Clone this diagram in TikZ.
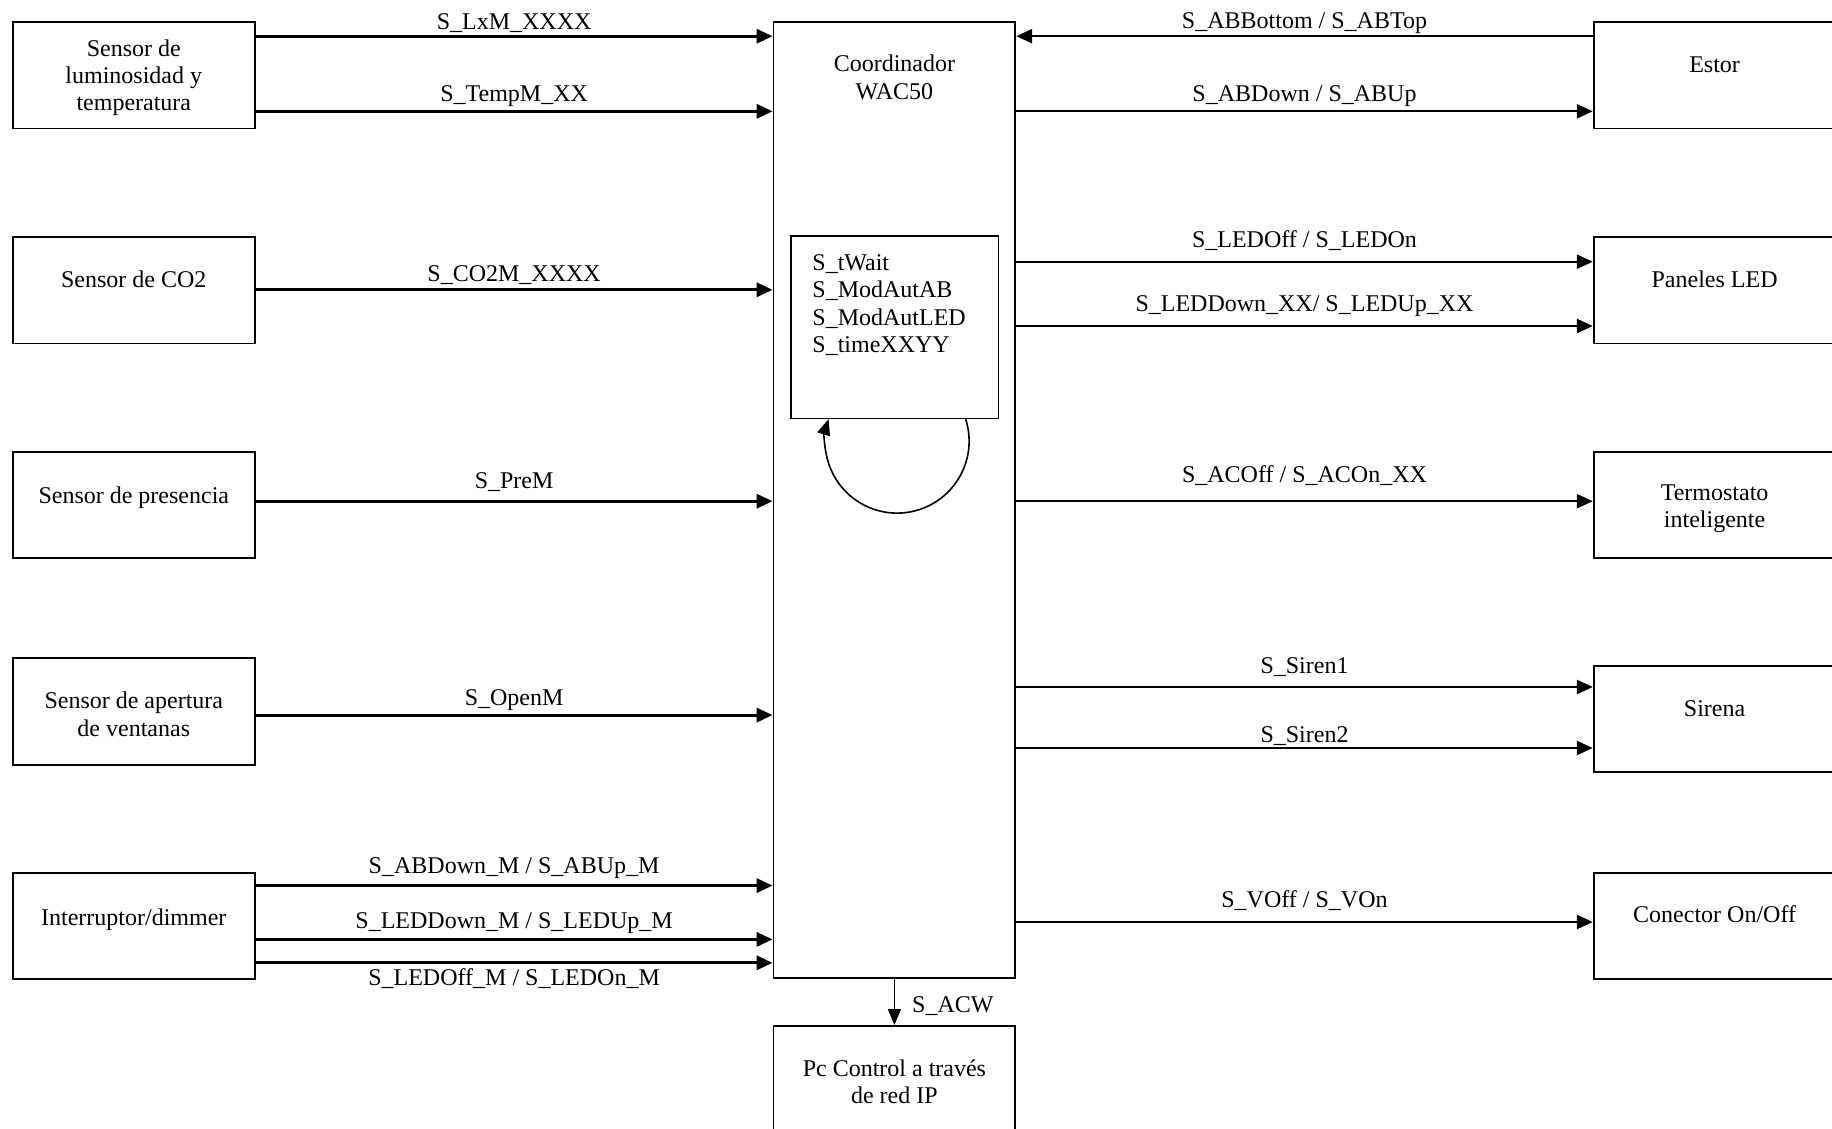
\documentclass[tikz,border=0pt]{standalone}
\usepackage{fontspec}
\setmainfont{Liberation Serif}
\usetikzlibrary{arrows.meta,calc}
\begin{document}
\begin{tikzpicture}[x=0.5pt,y=-0.5pt,
  font=\fontsize{12}{13.7}\selectfont,
  box/.style={draw, line width=0.9pt, minimum width=120.9pt, minimum height=53.15pt, inner sep=0pt},
  txt/.style={align=center, inner sep=0pt},
  sig/.style={line width=1.6pt, -{Triangle[length=8pt,width=7pt]}},
  sigr/.style={line width=1.2pt, -{Triangle[length=8pt,width=7pt]}},
  fine/.style={line width=0.8pt, -{Triangle[length=8pt,width=6.5pt]}},
  lbl/.style={inner sep=0pt, anchor=base}]
\useasboundingbox (0,0) rectangle (1832,1129);

% sensors and inputs (left column)
\node[box] (sl) at (133.8,75.35) {};
\node[txt] (sl-t) at (133.8,77.8) {Sensor de\\luminosidad y\\temperatura};
\node[box] (sc) at (133.8,290.35) {};
\node[txt] (sc-t) at (133.8,279.2) {Sensor de CO2};
\node[box] (sp) at (133.8,504.75) {};
\node[txt] (sp-t) at (133.8,497.7) {Sensor de presencia};
\node[box] (sa) at (133.8,711.5) {};
\node[txt] (sa-t) at (133.8,714.3) {Sensor de apertura\\de ventanas};
\node[box] (sw) at (133.8,925.95) {};
\node[txt] (sw-t) at (133.8,919.5) {Interruptor/dimmer};

% coordinator
\node[box, minimum height=477.9pt] (co) at (894.4,500.1) {};
\node[txt] (co-t) at (894.4,77.5) {Coordinador\\WAC50};
\node[draw, line width=0.8pt, minimum width=103.65pt, minimum height=91.15pt, inner sep=0pt] (ib) at (894.65,327.15) {};
\node[inner sep=0pt, align=left, anchor=west, font=\fontsize{12}{13.65}\selectfont] (ib-t) at (812,305)
  {S\_tWait\\S\_ModAutAB\\S\_ModAutLED\\S\_timeXXYY};
\draw[fine] ($(ib.south)+(71,0)$) arc[start angle=-17.8, end angle=197.8, radius=72];

% actuators (right column)
\node[box] (es) at (1714.6,75.35) {};
\node[txt] (es-t) at (1714.6,64.3) {Estor};
\node[box] (led) at (1714.6,290.35) {};
\node[txt] (led-t) at (1714.6,279.2) {Paneles LED};
\node[box] (te) at (1714.6,504.75) {};
\node[txt] (te-t) at (1714.6,509) {Termostato\\inteligente};
\node[box] (si) at (1714.6,719.15) {};
\node[txt] (si-t) at (1714.6,708.5) {Sirena};
\node[box] (cn) at (1714.6,925.95) {};
\node[txt] (cn-t) at (1714.6,914.5) {Conector On/Off};

% PC
\node[box] (pc) at (894.4,1079.05) {};
\node[txt] (pc-t) at (894.4,1081.5) {Pc Control a través\\de red IP};

% signal rows
\coordinate (r1) at (0,36.2);
\coordinate (r2) at (0,111.3);
\coordinate (l3) at (0,289.8);
\coordinate (q3) at (0,261.7);
\coordinate (q4) at (0,326);
\coordinate (r5) at (0,501.2);
\coordinate (l6) at (0,715.1);
\coordinate (q6) at (0,687);
\coordinate (q7) at (0,748);
\coordinate (l8) at (0,885.6);
\coordinate (l9) at (0,939.4);
\coordinate (l10) at (0,962.8);
\coordinate (q8) at (0,922);

% inputs into the coordinator
\draw[sig] (sl.east |- r1) -- (co.west |- r1) node[lbl, midway, yshift=3.5pt] {S\_LxM\_XXXX};
\draw[sig] (sl.east |- r2) -- (co.west |- r2) node[lbl, midway, yshift=4.75pt] {S\_TempM\_XX};
\draw[sig] (sc.east |- l3) -- (co.west |- l3) node[lbl, midway, yshift=4pt] {S\_CO2M\_XXXX};
\draw[sig] (sp.east |- r5) -- (co.west |- r5) node[lbl, midway, yshift=6.5pt] {S\_PreM};
\draw[sig] (sa.east |- l6) -- (co.west |- l6) node[lbl, midway, yshift=4.8pt] {S\_OpenM};
\draw[sig] (sw.east |- l8) -- (co.west |- l8) node[lbl, midway, yshift=6pt] {S\_ABDown\_M / S\_ABUp\_M};
\draw[sig] (sw.east |- l9) -- (co.west |- l9) node[lbl, midway, yshift=5.5pt] {S\_LEDDown\_M / S\_LEDUp\_M};
\draw[sig] (sw.east |- l10) -- (co.west |- l10) node[lbl, midway, yshift=-11.5pt] {S\_LEDOff\_M / S\_LEDOn\_M};

% coordinator to actuators
\draw[sigr] (es.west |- r1) -- (co.east |- r1) node[lbl, midway, yshift=4pt] {S\_ABBottom / S\_ABTop};
\draw[sigr] (co.east |- r2) -- (es.west |- r2) node[lbl, midway, yshift=4.75pt] {S\_ABDown / S\_ABUp};
\draw[sigr] (co.east |- q3) -- (led.west |- q3) node[lbl, midway, yshift=7pt] {S\_LEDOff / S\_LEDOn};
\draw[sigr] (co.east |- q4) -- (led.west |- q4) node[lbl, midway, yshift=7.5pt] {S\_LEDDown\_XX/ S\_LEDUp\_XX};
\draw[sigr] (co.east |- r5) -- (te.west |- r5) node[lbl, midway, yshift=9.5pt] {S\_ACOff / S\_ACOn\_XX};
\draw[sigr] (co.east |- q6) -- (si.west |- q6) node[lbl, midway, yshift=7pt] {S\_Siren1};
\draw[sigr] (co.east |- q7) -- (si.west |- q7) node[lbl, midway, yshift=3pt] {S\_Siren2};
\draw[sigr] (co.east |- q8) -- (cn.west |- q8) node[lbl, midway, yshift=7.5pt] {S\_VOff / S\_VOn};

% coordinator to PC
\draw[fine] (co.south) -- (pc.north) node[lbl, anchor=base west, midway, xshift=8.5pt, yshift=-5.5pt] {S\_ACW};
\end{tikzpicture}
\end{document}
